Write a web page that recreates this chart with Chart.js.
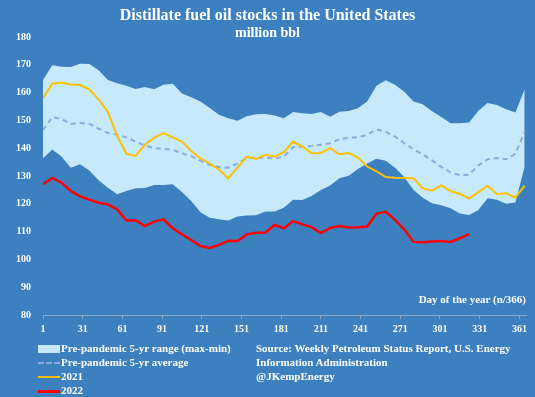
<!DOCTYPE html>
<html>
<head>
<meta charset="utf-8">
<script src="https://cdn.jsdelivr.net/npm/chart.js@4/dist/chart.umd.min.js"></script>
<style>
  html, body { margin: 0; padding: 0; background: #3c80c0; }
  #wrap { position: relative; width: 535px; height: 397px; overflow: hidden; background: #3c80c0;
          font-family: "Liberation Serif", "DejaVu Serif", serif; font-weight: bold; color: #fff; }
  #wrap canvas { position: absolute; left: 0; top: 0; }
  .txt { position: absolute; white-space: nowrap; }
  #title { left: 0; width: 535px; text-align: center; top: 5px; font-size: 16px; line-height: 19px; }
  #subtitle { left: 0; width: 535px; text-align: center; top: 24px; font-size: 14px; line-height: 17px; }
  #xtitle { right: 9px; top: 292px; font-size: 11px; line-height: 14px; }
  .leg { position: absolute; left: 38px; font-size: 11px; line-height: 14px; white-space: nowrap; }
  .leg i { display: inline-block; width: 22px; vertical-align: middle; margin-right: 1px; }
  #source { left: 256px; top: 341px; font-size: 11px; line-height: 14px; }
</style>
</head>
<body>
<div id="wrap">
  <canvas id="stocksChart" width="535" height="397"></canvas>
  <div class="txt" id="title">Distillate fuel oil stocks in the United States</div>
  <div class="txt" id="subtitle">million bbl</div>
  <div class="txt" id="xtitle">Day of the year (n/366)</div>
  <div class="leg" style="top:341px"><i style="height:8px;background:#c6e9fb;"></i>Pre-pandemic 5-yr range (max-min)</div>
  <div class="leg" style="top:355px"><i style="height:0;border-top:2px dashed #8eaadb;"></i>Pre-pandemic 5-yr average</div>
  <div class="leg" style="top:369px"><i style="height:2px;background:#ffc000;"></i>2021</div>
  <div class="leg" style="top:383px"><i style="height:3px;background:#ff0000;"></i>2022</div>
  <div class="txt" id="source">Source: Weekly Petroleum Status Report, U.S. Energy<br>Information Administration<br>@JKempEnergy</div>
</div>
<script>
// Weekly observations, day of the year
const days = [1, 8, 15, 22, 29, 36, 43, 50, 57, 64, 71, 78, 85, 92, 99, 106, 113, 120, 127, 134,
  141, 148, 155, 162, 169, 176, 183, 190, 197, 204, 211, 218, 225, 232, 239, 246, 253, 260, 267,
  274, 281, 288, 295, 302, 309, 316, 323, 330, 337, 344, 351, 358, 365];

// Pre-pandemic 5-yr range (million bbl)
const rangeMax = [164.5, 169.8, 169.3, 169.2, 170.4, 170.3, 168, 164.5, 163.4, 162.5, 161.3, 162, 161.2, 162.8,
  163.2, 159.7, 158.3, 156.8, 154.5, 152, 150.8, 149.9, 151.5, 152.2, 152.3, 151.8, 150.8, 153, 152.6, 152.3,
  153, 151.3, 153.1, 153.4, 154.4, 156.8, 162.5, 164.4, 162.8, 160.3, 156.8, 155.8, 153.3, 151.2, 149, 149,
  149.2, 153.5, 156.3, 155.5, 154, 152.8, 161.2];
const rangeMin = [136.4, 139.5, 137, 133, 134.2, 132, 128.5, 125.8, 123.4, 124.6, 125.6, 125.7, 126.8, 126.8,
  127, 124.2, 121, 117, 115, 114.4, 114, 115.4, 115.8, 115.9, 117.2, 117.2, 118.6, 121.5, 121.4, 122.8,
  125, 126.6, 129.2, 130.1, 132.5, 134.5, 136.2, 135.5, 133, 129.6, 125, 122.2, 120.2, 119.5, 118.4, 116.5,
  116, 117.8, 122, 121.5, 120, 120.5, 133.4];

// Pre-pandemic 5-yr average
const avg5yr = [146.5, 151.2, 150.5, 148.7, 149.1, 148.8, 147, 145.5, 144.8, 143.9, 142.4, 141, 140, 139.8,
  139.4, 138.2, 137.1, 135.5, 134, 133.2, 133, 134.5, 136.4, 136.6, 136.6, 136.3, 137, 140.4, 140.5, 140.8,
  141.2, 141.8, 143.2, 143.8, 143.9, 144.8, 146.8, 145.9, 144.2, 141.8, 139.6, 137.8, 135.6, 133.3, 131.3,
  130.3, 130.5, 133.8, 136, 136.5, 136, 138, 146];

const stocks2021 = [158, 163.2, 163.6, 162.9, 162.7, 161.2, 157.6, 153, 144.5, 138, 137.3, 141.2, 143.8, 145.4,
  143.9, 142.4, 139, 136.3, 134.5, 132.3, 129.2, 133, 137, 136.1, 137.6, 137, 138.6, 142.4, 140.6, 138.2,
  138.3, 140, 137.8, 138.3, 136.6, 133.4, 131.7, 129.6, 129.4, 129.3, 129.2, 125.6, 124.7, 126.7, 124.5,
  123.6, 121.9, 124.2, 126.5, 123.5, 123.8, 122.3, 126.5];

const stocks2022 = [127, 129.3, 127.6, 124.6, 122.7, 121.5, 120.4, 119.8, 118, 114, 114.1, 112, 113.6, 114.4,
  111.2, 109, 107, 104.8, 104.1, 105.2, 106.7, 106.6, 109, 109.6, 109.6, 112.4, 111.2, 113.8, 112.6, 111.6,
  109.5, 111.3, 112, 111.5, 111.6, 111.8, 116.5, 117.1, 114.2, 110.8, 106.3, 106.2, 106.4, 106.6, 106.3,
  107.6, 109.1];

const xTickDays = [1, 31, 61, 91, 121, 151, 181, 211, 241, 271, 301, 331, 361];

function toPoints(values) {
  return values.map((v, i) => ({ x: days[i], y: v }));
}

const tickFont = { family: "'Liberation Serif', 'DejaVu Serif', serif", size: 10, weight: 'bold' };

const ctx = document.getElementById('stocksChart').getContext('2d');
new Chart(ctx, {
  type: 'line',
  data: {
    datasets: [
      { label: '2022', data: toPoints(stocks2022), borderColor: '#ff0000', borderWidth: 2.5, pointRadius: 0, fill: false },
      { label: '2021', data: toPoints(stocks2021), borderColor: '#ffc000', borderWidth: 2, pointRadius: 0, fill: false },
      { label: 'Pre-pandemic 5-yr average', data: toPoints(avg5yr), borderColor: '#8eaadb', borderWidth: 2,
        borderDash: [5, 4], pointRadius: 0, fill: false },
      { label: 'Pre-pandemic 5-yr range (max-min)', data: toPoints(rangeMax), borderWidth: 0, borderColor: 'rgba(0,0,0,0)',
        backgroundColor: '#c6e9fb', pointRadius: 0, fill: '+1' },
      { label: 'min', data: toPoints(rangeMin), borderWidth: 0, borderColor: 'rgba(0,0,0,0)', pointRadius: 0, fill: false },
    ],
  },
  options: {
    responsive: false,
    animation: false,
    layout: { padding: { top: 37, right: 9, bottom: 58, left: 0 } },
    elements: { line: { tension: 0 } },
    plugins: {
      legend: { display: false },
      tooltip: { enabled: false },
    },
    scales: {
      x: {
        type: 'linear',
        min: 1,
        max: 366,
        afterBuildTicks: scale => { scale.ticks = xTickDays.map(v => ({ value: v })); },
        afterFit: scale => { scale.height = 24; },
        grid: { display: true, drawOnChartArea: false, tickLength: 4, color: '#8aa4c4' },
        border: { display: true, color: '#8aa4c4', width: 1 },
        ticks: { color: '#ffffff', font: tickFont, padding: 4, maxRotation: 0, autoSkip: false },
      },
      y: {
        min: 80,
        max: 180,
        afterFit: scale => { scale.width = 43; },
        grid: { display: false, drawTicks: false },
        border: { display: false },
        ticks: { stepSize: 10, color: '#ffffff', font: tickFont, padding: 12 },
      },
    },
  },
});
</script>
</body>
</html>
